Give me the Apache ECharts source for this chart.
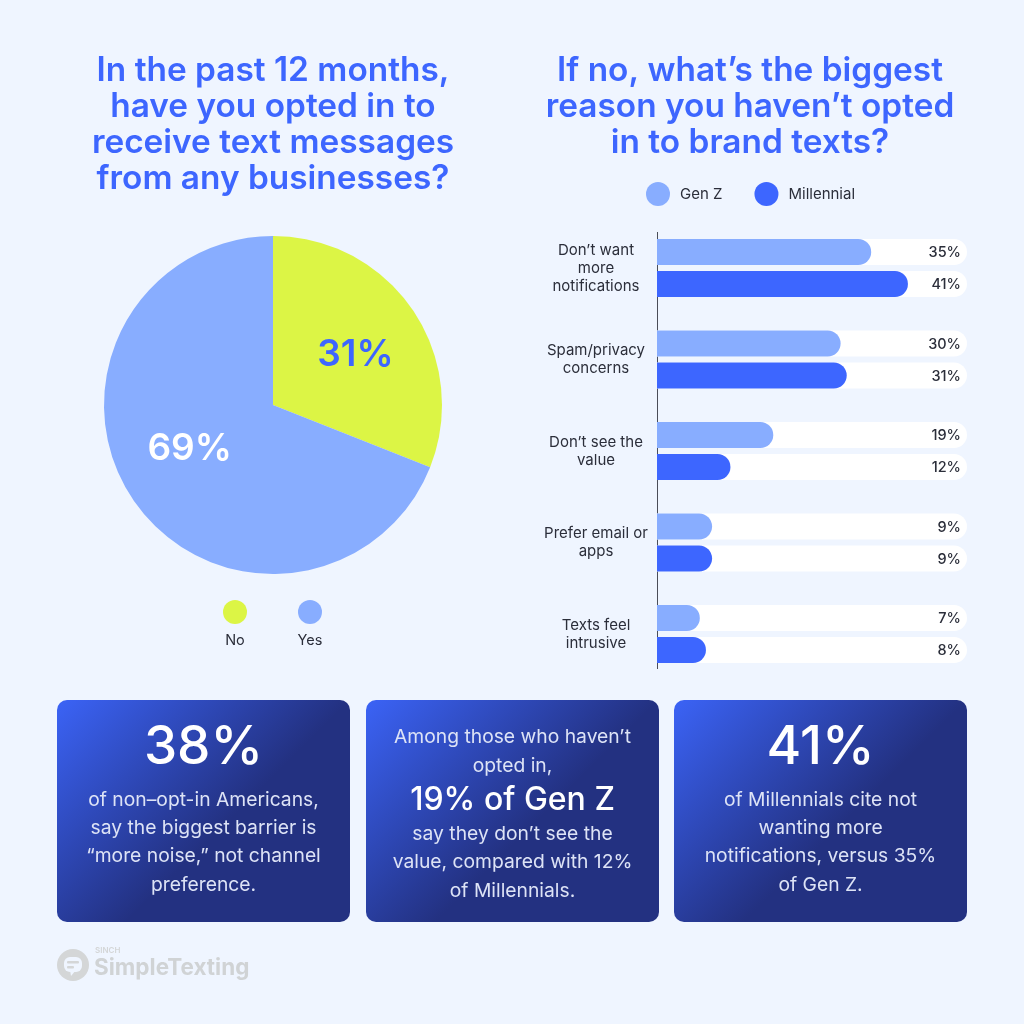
<!DOCTYPE html>
<html><head><meta charset="utf-8">
<style>html,body{margin:0;padding:0;background:#eff5ff}#c{width:1024px;height:1024px}</style>
<script src="https://cdn.jsdelivr.net/npm/echarts@6/dist/echarts.min.js"></script>
</head><body><div id="c"></div>
<script>
const pieNames = ['No', 'Yes'];
const pieValues = [31, 69];
const categories = ["Don\u2019t want\nmore\nnotifications", 'Spam/privacy\nconcerns', "Don\u2019t see the\nvalue", 'Prefer email or\napps', 'Texts feel\nintrusive'];
const genZ = [35, 30, 19, 9, 7];
const millennial = [41, 31, 12, 9, 8];
const leftTitle = 'In the past 12 months,\nhave you opted in to\nreceive text messages\nfrom any businesses?';
const rightTitle = "If no, what\u2019s the biggest\nreason you haven\u2019t opted\nin to brand texts?";
const cards = [
  [['38%', 'big'], ['of non\u2013opt-in Americans,', 'b'], ['say the biggest barrier is', 'b'], ['\u201cmore noise,\u201d not channel', 'b'], ['preference.', 'b']],
  [['Among those who haven\u2019t', 'b'], ['opted in,', 'b'], ['19% of Gen Z', 'mid'], ['say they don\u2019t see the', 'b'], ['value, compared with 12%', 'b'], ['of Millennials.', 'b']],
  [['41%', 'big'], ['of Millennials cite not', 'b'], ['wanting more', 'b'], ['notifications, versus 35%', 'b'], ['of Gen Z.', 'b']]
];
const F = 'Inter';
const LIME = '#dcf545', LIGHT = '#88adff', BLUE = '#3d66ff', INK = '#2b2e3a';

const cardX = [57, 366, 674], cardY = 700, cardW = 293, cardH = 222;
const lineY = { 0: [748, 800, 828, 856, 885], 1: [737, 766, 800, 834, 862, 891], 2: [748, 800, 828, 856, 885] };
const styles = {
  big: { font: '500 53px ' + F, fill: '#ffffff' },
  mid: { font: '500 32px ' + F, fill: '#ffffff' },
  b: { font: '400 19.3px ' + F, fill: '#dde3f6' }
};
const graphic = [];
cards.forEach((card, i) => {
  graphic.push({ type: 'rect', shape: { x: cardX[i], y: cardY, width: cardW, height: cardH, r: 10 }, style: {
    fill: new echarts.graphic.LinearGradient(0, 0, 0.75, 1, [{ offset: 0, color: '#3b63f6' }, { offset: 0.66, color: '#233181' }, { offset: 1, color: '#233181' }]) } });
  card.forEach((ln, j) => {
    graphic.push({ type: 'text', style: Object.assign({ text: ln[0], x: cardX[i] + cardW / 2, y: lineY[i][j], align: 'center', verticalAlign: 'middle' }, styles[ln[1]]) });
  });
});
pieNames.forEach((n, i) => {
  graphic.push({ type: 'text', style: { text: n, x: [235, 310][i], y: 641, align: 'center', verticalAlign: 'middle', font: '400 14.5px ' + F, fill: INK } });
});
// axis rule
graphic.push({ type: 'line', shape: { x1: 657.5, y1: 232, x2: 657.5, y2: 669 }, style: { stroke: '#4a4d58', lineWidth: 1 } });
// logo
graphic.push({ type: 'circle', shape: { cx: 73, cy: 965, r: 16 }, style: { fill: '#d4d6d7' } });
graphic.push({ type: 'rect', shape: { x: 64, y: 957, width: 18, height: 15, r: 6 }, style: { fill: '#eff5ff' } });
graphic.push({ type: 'polygon', shape: { points: [[70, 970], [76, 970], [71, 976]] }, style: { fill: '#eff5ff' } });
graphic.push({ type: 'rect', shape: { x: 67, y: 961, width: 12, height: 2.5, r: 1 }, style: { fill: '#d4d6d7' } });
graphic.push({ type: 'rect', shape: { x: 67, y: 966, width: 7, height: 2.5, r: 1 }, style: { fill: '#d4d6d7' } });
graphic.push({ type: 'text', style: { text: 'SINCH', x: 95, y: 951, verticalAlign: 'middle', font: '600 8px ' + F, fill: '#d4d6d7' } });
graphic.push({ type: 'text', style: { text: 'SimpleTexting', x: 94, y: 968, verticalAlign: 'middle', font: '700 22.5px ' + F, fill: '#d0d3d5' } });

const chart = echarts.init(document.getElementById('c'), null, { renderer: 'canvas' });
const titleStyle = { fontFamily: F, fontSize: 33.4, fontWeight: 600, color: BLUE, lineHeight: 36 };
chart.setOption({
  animation: false,
  backgroundColor: '#eff5ff',
  title: [
    { text: leftTitle, left: 273, top: 53, padding: 0, textAlign: 'center', textStyle: titleStyle },
    { text: rightTitle, left: 750, top: 53, padding: 0, textAlign: 'center', textStyle: titleStyle }
  ],
  legend: [
    { data: ['Gen Z', 'Millennial'], left: 646, top: 182, padding: 0, icon: 'circle', itemWidth: 24, itemHeight: 24, itemGap: 32,
      textStyle: { fontFamily: F, fontSize: 15, fontWeight: 400, color: INK, padding: [0, 0, 0, 5] } },
    { data: pieNames, left: 223, top: 600, padding: 0, icon: 'circle', itemWidth: 24, itemHeight: 24, itemGap: 51, formatter: () => '' }
  ],
  grid: { left: 657, width: 310, top: 222.25, height: 457.5 },
  xAxis: { type: 'value', min: 0, max: 50.65, show: false },
  yAxis: { type: 'category', inverse: true, data: categories,
    axisLine: { show: false }, axisTick: { show: false },
    axisLabel: { align: 'center', margin: 61, fontFamily: F, fontSize: 15, fontWeight: 400, color: INK, lineHeight: 18 } },
  series: [
    { type: 'pie', name: 'Opted in', center: [273, 405], radius: [0, 169], startAngle: 90, clockwise: true,
      data: pieNames.map((n, i) => ({ name: n, value: pieValues[i], itemStyle: { color: i ? LIGHT : LIME },
        label: { color: i ? '#ffffff' : BLUE } })),
      label: { position: 'inside', formatter: '{c}%', fontFamily: F, fontSize: 37, fontWeight: 600 },
      labelLine: { show: false }, emphasis: { disabled: true },
      labelLayout: p => p.dataIndex ? { dx: -11, dy: -5 } : { dx: 10, dy: -1 } },
    ...[['Gen Z', genZ, LIGHT], ['Millennial', millennial, BLUE]].map(([name, data, color]) => ({
      type: 'bar', name, data, barWidth: 26, barGap: '23%',
      itemStyle: { color, borderRadius: [0, 13, 13, 0] },
      showBackground: true, backgroundStyle: { color: '#ffffff', borderRadius: [0, 13, 13, 0] },
      label: { show: true, position: 'right', formatter: '{c}%', fontFamily: F, fontSize: 14.5, fontWeight: 500, color: INK },
      labelLayout: { x: 961, dy: 1, align: 'right', verticalAlign: 'middle' }
    }))
  ],
  graphic
});
</script></body></html>
